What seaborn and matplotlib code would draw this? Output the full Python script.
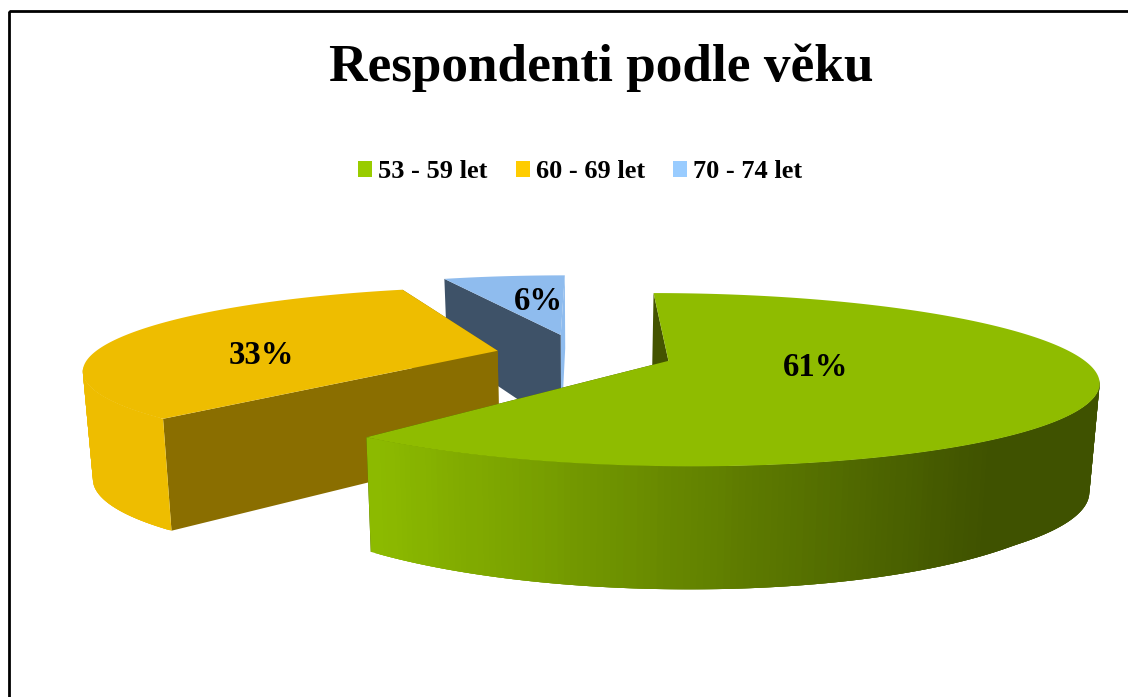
import numpy as np
import matplotlib
matplotlib.use('Agg')
import matplotlib.pyplot as plt
from matplotlib.patches import Patch, Polygon, Rectangle
import seaborn as sns

# data
labels = ['53 - 59 let', '60 - 69 let', '70 - 74 let']
values = [61, 33, 6]
pct_labels = ['61%', '33%', '6%']

colors_top = ['#8fbc00', '#eebd00', '#8fbcee']
colors_side = ['#445400', '#8a6e00', '#3e5268']
legend_colors = ['#99cc00', '#ffcc00', '#99ccff']
rim_green = ['#8dbb00', '#3f5200']

# 3d look of the pie
EXPLODE = [0.213, 0.213, 0.27]
ROTATE = [0.0, 2.5, 0.0]
RADIUS = [1.0, 0.99, 1.0]
NUDGE = [(0, 0), (-0.005, 0.02), (-0.012, 0)]
CX, CY = 585, 355
RX, RY = 410, 80
K = 0.214

sns.set_style('white')
plt.rcParams['font.family'] = ['Liberation Serif', 'DejaVu Serif']
plt.rcParams['text.color'] = 'black'

fig = plt.figure(figsize=(11.28, 6.97), dpi=100)
ax = fig.add_axes([0, 0, 1, 1])
ax.set_xlim(0, 1128)
ax.set_ylim(697, 0)
ax.axis('off')


def proj(u, v, bottom=False):
    w = 1 + K * v
    x, y = CX + RX * u / w, CY - RY * v / w
    if bottom:
        # far edge is shorter than the near one, bottom pulled in a bit
        x = CX + (x - CX) * 0.98
        y = y + np.interp(v, [-1.07, -0.8, -0.25, 1.0], [123, 113, 108, 73])
    return x, y


def draw_slice(i, a0, a1, n=300):
    mid = np.radians((a0 + a1) / 2)
    ou = EXPLODE[i] * np.sin(mid) + NUDGE[i][0]
    ov = EXPLODE[i] * np.cos(mid) + NUDGE[i][1]
    th = np.radians(np.linspace(a0, a1, n) + ROTATE[i])
    us, vs = ou + RADIUS[i] * np.sin(th), ov + RADIUS[i] * np.cos(th)
    z = 2 - i * 0.5

    # inner walls, the far wall of the blue slice only shows as a light sliver
    far_c = colors_top[i] if i == 2 else colors_side[i]
    walls = [(us[-1], vs[-1], far_c), (us[0], vs[0], colors_side[i])]
    for ue, ve, c in walls:
        p = [proj(ou, ov), proj(ue, ve), proj(ue, ve, True), proj(ou, ov, True)]
        ax.add_patch(Polygon(p, closed=True, fc=c, ec='none', zorder=z))

    # outer rim, only the part that faces the viewer
    shades = sns.blend_palette(rim_green, 100)
    for j in range(n - 3):
        if np.cos(th[j]) > -K:
            continue
        t0, t1 = proj(us[j], vs[j]), proj(us[j + 3], vs[j + 3])
        b1, b0 = proj(us[j + 3], vs[j + 3], True), proj(us[j], vs[j], True)
        c = colors_top[i]
        if i == 0:
            # green rim gets darker to the right, flat from about x=990
            f = np.clip((t0[0] - 370) / 620, 0, 1)
            c = shades[int(f * 99)]
        ax.add_patch(Polygon([t0, t1, b1, b0], closed=True, fc=c, ec='none', zorder=z + 0.1))

    # top face
    top = [proj(ou, ov)] + [proj(u, v) for u, v in zip(us, vs)]
    ax.add_patch(Polygon(top, closed=True, fc=colors_top[i], ec='none', zorder=z + 0.2))


angles = np.concatenate([[0], np.cumsum(values)]) * 3.6
for i in [2, 1, 0]:
    draw_slice(i, angles[i], angles[i + 1])

ax.text(816, 368, pct_labels[0], fontsize=23.5, fontweight='bold', ha='center', va='center', zorder=5)
ax.text(261.5, 355, pct_labels[1], fontsize=23.5, fontweight='bold', ha='center', va='center', zorder=5)
ax.text(538, 301, pct_labels[2], fontsize=23.5, fontweight='bold', ha='center', va='center', zorder=5)

ax.text(601.5, 68, 'Respondenti podle věku', fontsize=38.3, fontweight='bold', ha='center', va='center')

handles = [Patch(fc=c, ec='none') for c in legend_colors]
leg = ax.legend(handles, labels, ncol=3, loc='center', bbox_to_anchor=(580 / 1128, 1 - 172 / 697),
                frameon=False, prop={'size': 19, 'weight': 'bold'}, handlelength=0.53, handleheight=0.53,
                handletextpad=0.23, columnspacing=1.08)

ax.add_patch(Rectangle((8.7, 11), 1300, 900, fc='none', ec='black', lw=2, zorder=6))

fig.savefig('out.png', dpi=100)
